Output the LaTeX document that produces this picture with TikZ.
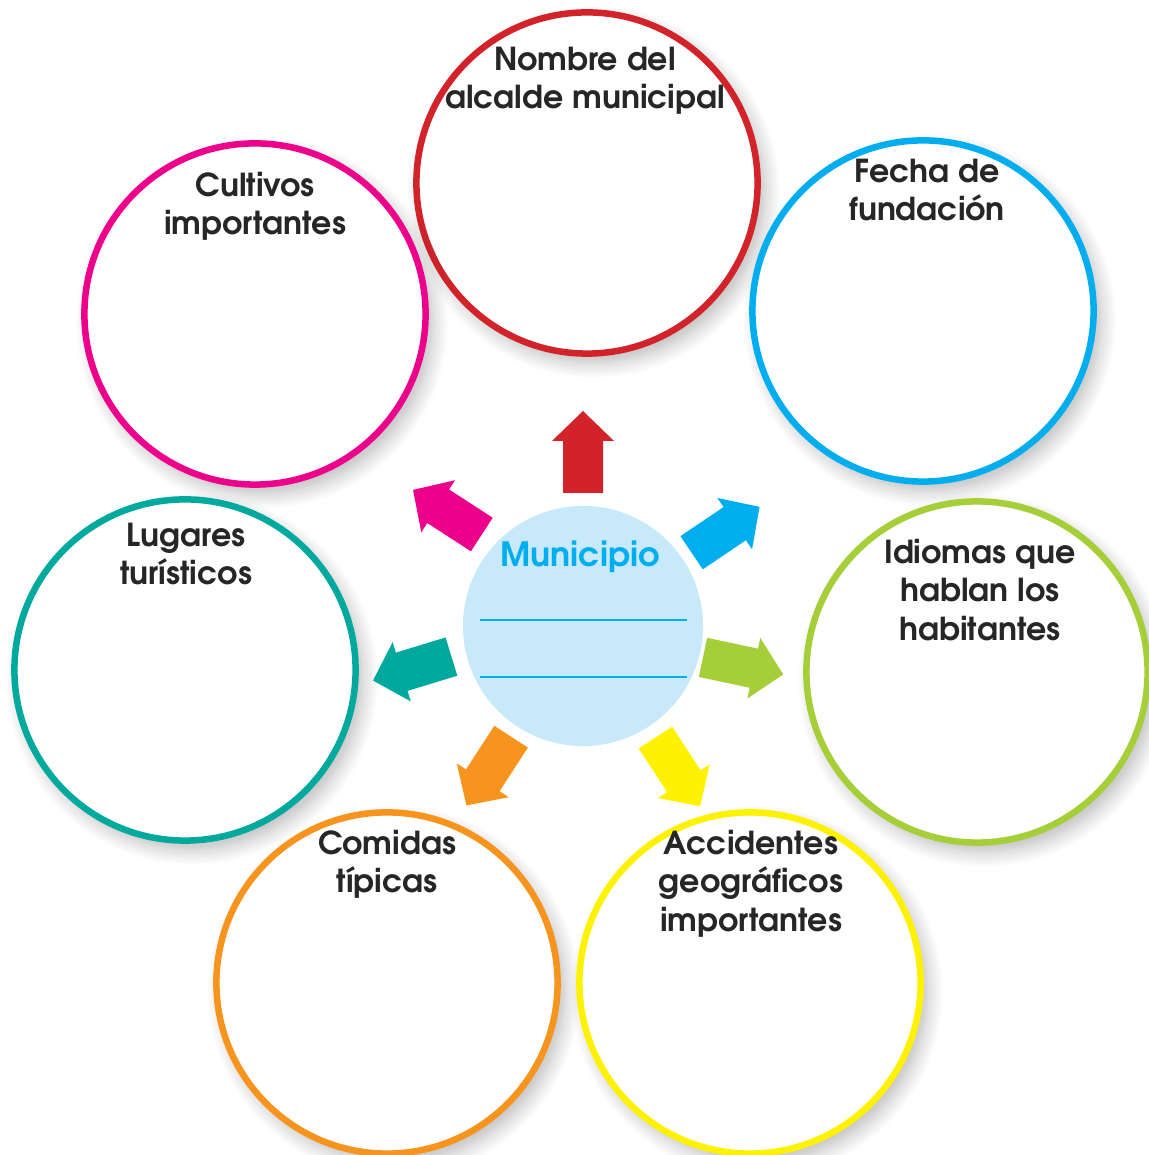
\documentclass[tikz,border=0pt]{standalone}
\usepackage{fontspec}
\setmainfont{TeX Gyre Adventor}
\usetikzlibrary{positioning,calc,shadows.blur}

\definecolor{munired}{HTML}{D2232A}
\definecolor{munimag}{HTML}{EC008C}
\definecolor{muniblue}{HTML}{00AEEF}
\definecolor{muniteal}{HTML}{00A99D}
\definecolor{munigreen}{HTML}{A6CE39}
\definecolor{muniorange}{HTML}{F7941D}
\definecolor{muniyellow}{HTML}{FFF200}
\definecolor{munifill}{HTML}{C7E9F9}

\tikzset{
	bubble/.style={circle, draw=#1, line width=0.065cm, fill=white,
		minimum size=3.41cm, inner sep=0pt,
		blur shadow={shadow xshift=0.07cm, shadow yshift=-0.09cm,
			shadow blur radius=0.16cm, shadow blur steps=10, shadow opacity=28}},
	btext/.style={align=center, inner sep=0pt, text=black!85,
		font=\fontsize{9}{10.9}\selectfont\bfseries},
	blockarrow/.pic={
		\fill[#1] (-41,-20) -- (11,-20) -- (11,-31) -- (41,0) -- (11,31)
			-- (11,20) -- (-41,20) -- cycle;
	}
}

\begin{document}
\begin{tikzpicture}[x=0.01cm, y=0.01cm]
	\useasboundingbox (0,0) rectangle (1149,1155);

	% outer circles
	\node[bubble=munired] (alcalde) at (587,972) {};
	\node[bubble=munimag] (cultivos) at (255,841) {};
	\node[bubble=muniblue] (fecha) at (923,844) {};
	\node[bubble=muniteal] (lugares) at (185,485) {};
	\node[bubble=munigreen] (idiomas) at (977,483) {};
	\node[bubble=muniorange] (comidas) at (387,172) {};
	\node[bubble=muniyellow] (accidentes) at (750,172) {};

	\node[btext] at (585,1074.5) {Nombre del\\alcalde municipal};
	\node[btext] at (255,948.5) {Cultivos\\importantes};
	\node[btext] at (927,965) {Fecha de\\fundación};
	\node[btext] at (186,601) {Lugares\\turísticos};
	\node[btext] at (980,565) {Idiomas que\\hablan los\\habitantes};
	\node[btext] at (387,291) {Comidas\\típicas};
	\node[btext] at (751,271.5) {Accidentes\\geográficos\\importantes};

	% centre
	\node[circle, fill=munifill, minimum size=2.4cm, inner sep=0pt] (municipio) at (583,529) {};
	\node[text=muniblue, font=\fontsize{9.5}{11}\selectfont\bfseries] at (580,598) {Municipio};
	\draw[muniblue, line width=0.015cm] (480,535) -- (687,535);
	\draw[muniblue, line width=0.015cm] (480,478) -- (687,478);

	% arrows
	\pic[rotate=90] at ($(municipio.center)+(90:174)$) {blockarrow=munired};
	\pic[rotate=34] at ($(municipio.center)+(34:172)$) {blockarrow=muniblue};
	\pic[rotate=-12] at ($(municipio.center)+(-14:165)$) {blockarrow=munigreen};
	\pic[rotate=-57] at ($(municipio.center)+(-57:174)$) {blockarrow=muniyellow};
	\pic[rotate=-123] at ($(municipio.center)+(-123:173)$) {blockarrow=muniorange};
	\pic[rotate=-163] at ($(municipio.center)+(-166:176)$) {blockarrow=muniteal};
	\pic[rotate=147] at ($(municipio.center)+(140:177)$) {blockarrow=munimag};
\end{tikzpicture}
\end{document}
